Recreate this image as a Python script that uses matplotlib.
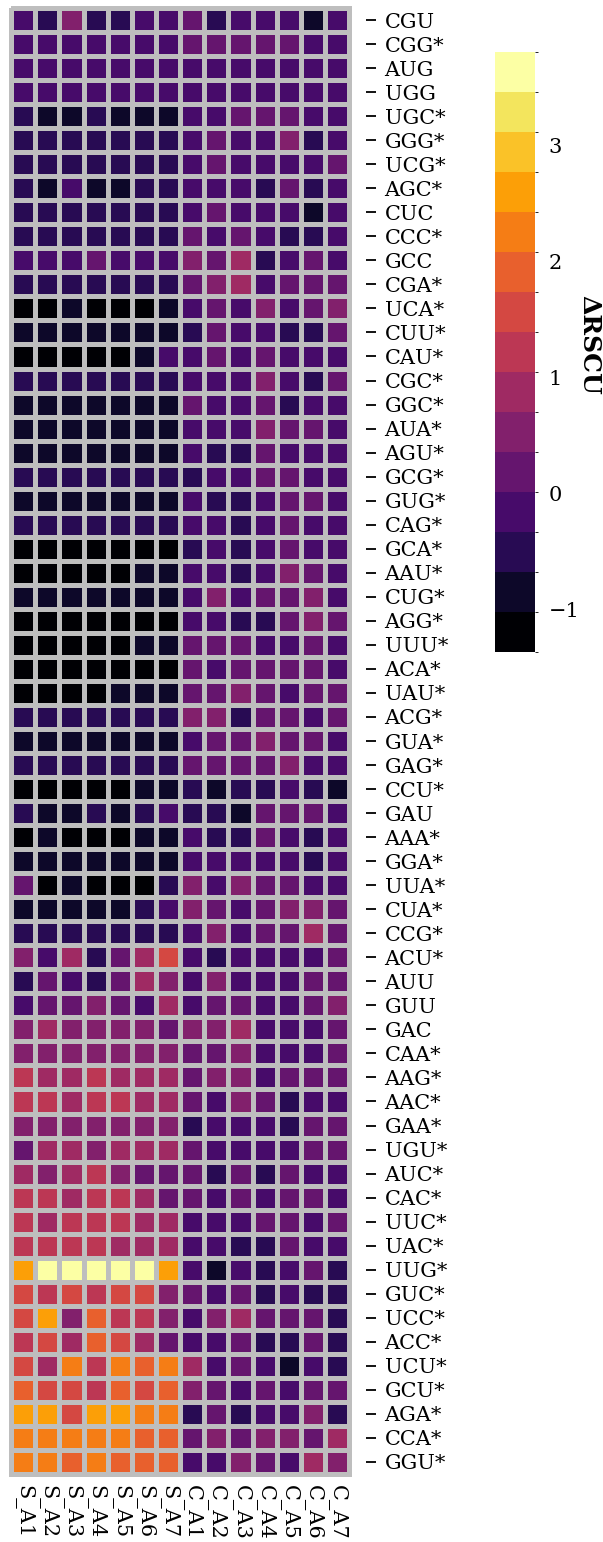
import numpy as np
import matplotlib
matplotlib.use("Agg")
import matplotlib.pyplot as plt
from matplotlib.colors import ListedColormap, BoundaryNorm

# codons (rows, top to bottom) and samples (columns)
codons = ["CGU", "CGG*", "AUG", "UGG", "UGC*", "GGG*", "UCG*", "AGC*", "CUC", "CCC*",
          "GCC", "CGA*", "UCA*", "CUU*", "CAU*", "CGC*", "GGC*", "AUA*", "AGU*", "GCG*",
          "GUG*", "CAG*", "GCA*", "AAU*", "CUG*", "AGG*", "UUU*", "ACA*", "UAU*", "ACG*",
          "GUA*", "GAG*", "CCU*", "GAU", "AAA*", "GGA*", "UUA*", "CUA*", "CCG*", "ACU*",
          "AUU", "GUU", "GAC", "CAA*", "AAG*", "AAC*", "GAA*", "UGU*", "AUC*", "CAC*",
          "UUC*", "UAC*", "UUG*", "GUC*", "UCC*", "ACC*", "UCU*", "GCU*", "AGA*", "CCA*",
          "GGU*"]
samples = ["S_A1", "S_A2", "S_A3", "S_A4", "S_A5", "S_A6", "S_A7",
           "C_A1", "C_A2", "C_A3", "C_A4", "C_A5", "C_A6", "C_A7"]

# delta RSCU per sample (estimated from the colour classes)
s_a1 = [-0.15, -0.15, -0.15, -0.15, -0.5, -0.5, -0.5, -0.5, -0.5, -0.5,
        -0.15, -0.5, -1.2, -0.85, -1.2, -0.5, -0.85, -0.85, -0.85, -0.5,
        -0.85, -0.5, -1.2, -1.2, -0.85, -1.2, -1.2, -1.2, -1.2, -0.5,
        -0.85, -0.5, -1.2, -0.5, -1.2, -0.85, 0.2, -0.85, -0.5, 0.55,
        -0.5, -0.15, 0.55, 0.55, 1.2, 1.2, 0.55, 0.2, 0.9, 1.2,
        1.2, 1.2, 2.6, 1.55, 1.55, 1.2, 1.55, 1.9, 2.6, 2.25,
        2.25]
s_a2 = [-0.5, -0.15, -0.15, -0.15, -0.85, -0.5, -0.5, -0.85, -0.5, -0.5,
        -0.15, -0.5, -1.2, -0.85, -1.2, -0.5, -0.85, -0.85, -0.85, -0.5,
        -0.85, -0.5, -1.2, -1.2, -0.85, -1.2, -1.2, -1.2, -1.2, -0.5,
        -0.85, -0.5, -1.2, -0.85, -0.85, -0.85, -1.2, -0.85, -0.5, -0.15,
        0.2, 0.2, 0.9, 0.55, 0.9, 1.2, 0.55, 0.9, 0.55, 1.2,
        0.9, 1.2, 3.65, 1.2, 2.6, 1.55, 0.9, 1.55, 2.6, 2.25,
        2.25]
s_a3 = [0.55, -0.15, -0.15, -0.15, -0.85, -0.5, -0.5, -0.15, -0.5, -0.5,
        -0.15, -0.5, -0.85, -0.85, -1.2, -0.5, -0.85, -0.85, -0.85, -0.5,
        -0.85, -0.5, -1.2, -1.2, -0.85, -1.2, -1.2, -1.2, -1.2, -0.5,
        -0.85, -0.5, -1.2, -0.85, -1.2, -0.85, -0.85, -0.85, -0.5, 0.9,
        -0.15, 0.2, 0.55, 0.55, 0.9, 0.9, 0.55, 0.9, 0.9, 0.9,
        1.2, 1.2, 3.65, 1.55, 0.55, 0.9, 2.25, 1.55, 1.55, 2.25,
        1.9]
s_a4 = [-0.5, -0.15, -0.15, -0.15, -0.5, -0.5, -0.5, -0.85, -0.5, -0.5,
        0.2, -0.5, -1.2, -0.85, -1.2, -0.5, -0.85, -0.85, -0.85, -0.5,
        -0.85, -0.5, -1.2, -1.2, -0.85, -1.2, -1.2, -1.2, -1.2, -0.5,
        -0.85, -0.5, -1.2, -0.5, -1.2, -0.85, -1.2, -0.85, -0.5, -0.5,
        -0.5, 0.55, 0.55, 0.55, 1.2, 1.2, 0.55, 0.55, 1.2, 1.2,
        1.2, 1.2, 3.65, 1.2, 1.9, 1.9, 1.2, 1.2, 2.6, 2.25,
        2.25]
s_a5 = [-0.5, -0.15, -0.15, -0.15, -0.85, -0.5, -0.5, -0.85, -0.5, -0.5,
        -0.15, -0.5, -1.2, -0.85, -1.2, -0.5, -0.85, -0.85, -0.85, -0.5,
        -0.85, -0.5, -1.2, -1.2, -0.85, -1.2, -1.2, -1.2, -0.85, -0.5,
        -0.85, -0.5, -1.2, -0.85, -1.2, -0.85, -1.2, -0.85, -0.5, 0.2,
        0.2, 0.2, 0.55, 0.55, 0.9, 1.2, 0.55, 0.9, 0.55, 1.2,
        1.2, 0.9, 3.65, 1.55, 1.2, 1.55, 2.25, 1.9, 2.6, 2.25,
        1.9]
s_a6 = [-0.15, -0.15, -0.15, -0.15, -0.85, -0.5, -0.5, -0.5, -0.5, -0.5,
        -0.15, -0.5, -1.2, -0.85, -0.85, -0.5, -0.85, -0.85, -0.85, -0.5,
        -0.85, -0.5, -1.2, -0.85, -0.85, -1.2, -0.85, -1.2, -0.85, -0.5,
        -0.85, -0.5, -0.85, -0.5, -0.85, -0.85, -1.2, -0.5, -0.5, 0.9,
        0.9, -0.15, 0.55, 0.55, 0.9, 0.9, 0.55, 0.9, 0.2, 0.9,
        0.9, 0.9, 3.65, 1.55, 1.2, 0.9, 1.9, 1.55, 2.25, 1.9,
        1.9]
s_a7 = [-0.15, -0.15, -0.15, -0.15, -0.85, -0.5, -0.5, -0.5, -0.5, -0.5,
        -0.15, -0.5, -0.85, -0.85, -0.15, -0.5, -0.85, -0.85, -0.85, -0.5,
        -0.85, -0.5, -1.2, -0.85, -0.85, -1.2, -0.85, -1.2, -0.85, -0.5,
        -0.85, -0.5, -0.85, -0.15, -0.85, -0.85, -0.5, -0.15, -0.5, 1.55,
        0.55, 0.9, 0.2, 0.55, 0.9, 0.9, 0.55, 0.9, 0.2, 0.2,
        0.9, 0.9, 2.6, 0.55, 0.55, 0.2, 2.25, 1.9, 2.25, 1.9,
        1.9]
c_a1 = [0.2, 0.2, -0.15, -0.15, -0.15, -0.15, -0.15, -0.15, -0.15, 0.2,
        0.55, 0.2, -0.15, -0.5, -0.15, -0.15, 0.2, -0.15, -0.15, -0.5,
        -0.15, -0.15, -0.5, -0.15, -0.15, -0.15, 0.2, 0.2, 0.2, 0.55,
        -0.15, 0.2, -0.5, -0.5, -0.15, -0.15, 0.55, 0.55, -0.15, -0.15,
        -0.15, -0.15, 0.55, 0.2, 0.2, 0.2, -0.5, 0.2, 0.2, 0.2,
        -0.15, -0.15, -0.15, 0.2, -0.15, -0.15, 0.9, 0.55, -0.5, 0.2,
        -0.15]
c_a2 = [-0.5, 0.2, -0.15, -0.15, -0.15, 0.2, 0.2, -0.15, 0.2, -0.15,
        0.2, 0.55, 0.2, 0.2, 0.2, -0.15, -0.15, -0.15, -0.5, -0.15,
        -0.5, -0.15, -0.15, -0.15, 0.55, -0.15, 0.2, -0.15, 0.2, 0.55,
        0.2, 0.2, -0.85, -0.5, -0.5, -0.15, -0.15, 0.2, 0.55, -0.5,
        0.55, 0.2, 0.55, 0.2, 0.55, -0.15, -0.15, -0.15, -0.5, -0.15,
        -0.15, -0.15, -0.85, -0.15, 0.55, -0.15, -0.15, 0.2, 0.2, 0.55,
        -0.15]
c_a3 = [-0.15, 0.2, -0.15, -0.15, 0.2, -0.15, -0.15, -0.15, -0.15, 0.2,
        0.9, 0.9, -0.15, -0.15, -0.15, -0.15, -0.15, -0.15, -0.5, -0.15,
        -0.5, -0.5, -0.5, -0.5, -0.15, -0.5, 0.2, 0.2, 0.55, -0.5,
        0.2, 0.2, -0.5, -0.85, -0.5, -0.15, 0.55, -0.15, -0.15, -0.15,
        -0.15, 0.2, 0.9, 0.55, 0.55, 0.55, -0.15, -0.15, 0.2, 0.2,
        -0.15, -0.5, -0.15, 0.2, 0.9, 0.2, 0.2, -0.15, -0.5, 0.2,
        0.55]
c_a4 = [-0.15, 0.2, -0.15, -0.15, 0.2, -0.15, -0.15, -0.5, -0.15, -0.15,
        -0.5, -0.15, 0.55, -0.15, 0.2, 0.55, 0.2, 0.55, 0.2, 0.2,
        -0.15, -0.15, -0.15, -0.15, 0.2, -0.5, -0.15, 0.2, 0.2, 0.2,
        0.55, 0.2, -0.5, 0.2, 0.2, -0.15, 0.2, 0.2, 0.2, -0.15,
        -0.15, -0.15, -0.15, -0.15, -0.15, 0.2, -0.15, -0.15, -0.5, -0.15,
        0.2, -0.5, -0.5, -0.5, 0.2, -0.5, -0.15, 0.2, -0.15, 0.55,
        0.2]
c_a5 = [-0.15, 0.2, -0.15, -0.15, 0.2, 0.55, -0.15, 0.2, -0.15, -0.5,
        -0.15, 0.2, -0.15, -0.5, -0.15, -0.15, -0.5, 0.2, -0.15, 0.2,
        0.2, 0.2, 0.2, 0.55, 0.2, 0.2, -0.15, 0.2, -0.15, 0.2,
        0.2, 0.55, -0.15, 0.2, -0.15, -0.15, 0.2, 0.55, 0.2, -0.15,
        -0.15, -0.15, -0.15, -0.15, 0.2, -0.5, -0.5, -0.15, 0.2, 0.2,
        0.2, 0.2, -0.15, -0.15, 0.2, -0.5, -0.85, -0.15, -0.15, 0.55,
        -0.15]
c_a6 = [-0.85, -0.15, -0.15, -0.15, -0.15, -0.5, -0.15, -0.5, -0.85, -0.5,
        0.2, 0.2, 0.2, -0.5, -0.15, -0.5, -0.15, 0.2, -0.15, -0.15,
        0.2, -0.15, -0.15, 0.2, 0.55, 0.55, 0.2, 0.2, 0.2, -0.15,
        0.2, -0.15, -0.5, 0.2, -0.5, -0.5, -0.15, 0.55, 0.9, -0.15,
        0.2, 0.2, -0.15, -0.15, 0.2, -0.15, 0.2, 0.2, -0.15, 0.2,
        -0.15, -0.15, 0.2, -0.5, 0.2, 0.2, -0.15, 0.2, 0.55, 0.2,
        0.9]
c_a7 = [-0.15, -0.15, -0.15, -0.15, -0.15, -0.15, 0.2, -0.15, -0.15, -0.15,
        -0.15, 0.2, 0.55, 0.2, -0.15, 0.2, -0.15, -0.15, -0.15, -0.15,
        -0.15, -0.15, -0.15, -0.15, -0.15, 0.2, -0.15, -0.15, 0.2, 0.2,
        -0.15, -0.15, -0.85, -0.15, -0.15, -0.15, -0.15, 0.2, 0.2, 0.2,
        0.2, 0.55, 0.2, 0.2, 0.2, -0.15, 0.2, 0.2, -0.15, -0.15,
        0.2, -0.15, -0.5, -0.5, -0.5, -0.5, -0.5, 0.2, -0.5, 0.9,
        0.55]

cbar_ticks = [-1, 0, 1, 2, 3]
vmin, vmax = -1.37, 3.81
n_levels = 15

plt.rcParams["font.family"] = "DejaVu Serif"

data = np.column_stack([s_a1, s_a2, s_a3, s_a4, s_a5, s_a6, s_a7,
                        c_a1, c_a2, c_a3, c_a4, c_a5, c_a6, c_a7])

cmap = ListedColormap(plt.cm.inferno(np.linspace(0, 1, n_levels)))
norm = BoundaryNorm(np.linspace(vmin, vmax, n_levels + 1), n_levels)

fig = plt.figure(figsize=(6.03, 15.42), dpi=100)
ax = fig.add_axes([0.0185, 0.0441, 0.5605, 0.9507])
mesh = ax.pcolormesh(data, cmap=cmap, norm=norm, edgecolors="#bebebe", linewidth=3.4)
mesh.set_clip_on(False)
ax.set_xlim(0, len(samples))
ax.set_ylim(len(codons), 0)
for s in ax.spines.values():
    s.set_visible(False)
ax.spines["right"].set_position(("outward", 12))

ax.set_yticks(np.arange(len(codons)) + 0.5)
ax.set_yticklabels(codons, fontsize=15)
ax.yaxis.tick_right()
ax.tick_params(axis="y", length=7.5, width=1.3, pad=6, color="black")
ax.set_xticks(np.arange(len(samples)) + 0.5)
ax.set_xticklabels(samples, rotation=-90, fontsize=15, va="top", ha="center")
ax.tick_params(axis="x", length=0, pad=8)

cax = fig.add_axes([0.821, 0.5772, 0.066, 0.389])
sm = plt.cm.ScalarMappable(norm=norm, cmap=cmap)
cb = fig.colorbar(sm, cax=cax, ticks=cbar_ticks)
cb.outline.set_visible(False)
cb.ax.tick_params(length=0, pad=10, labelsize=15)
fig.text(0.977, 1 - 345 / 1542, "ΔRSCU", rotation=-90, fontsize=18,
         fontweight="bold", ha="center", va="center")

fig.savefig("out.png", dpi=100)
